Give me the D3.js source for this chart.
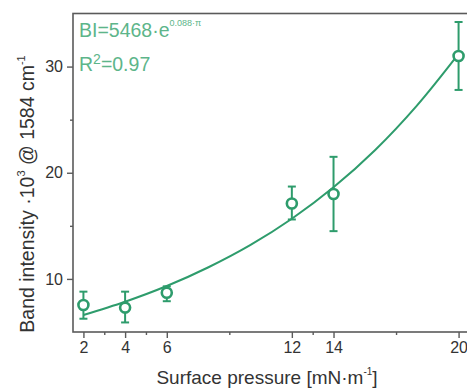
<!DOCTYPE html>
<html>
<head>
<meta charset="utf-8">
<script src="https://cdn.jsdelivr.net/npm/d3@7"></script>
<style>
  html, body { margin: 0; padding: 0; background: #fff; }
  svg { display: block; }
  text { font-family: "Liberation Sans", Arial, sans-serif; }
</style>
</head>
<body>
<svg id="chart" width="467" height="391"></svg>
<script>
// ---- data ----
const pressure = [2, 4, 6, 12, 14, 20];
const intensity = [7.55, 7.3, 8.7, 17.1, 18.0, 31.0];
const errLow = [6.25, 5.9, 7.9, 15.6, 14.5, 27.8];
const errHigh = [8.8, 8.8, 9.3, 18.7, 21.5, 34.2];
// fitted exponential curve, sampled as drawn in the reference
const fitX = [2, 4, 6, 8, 10, 12, 14, 16, 18, 20];
const fitY = [6.6, 7.85, 9.33, 11.1, 13.18, 15.67, 18.63, 22.15, 26.33, 31.2];
const xTickValues = [2, 4, 6, 12, 14, 20];
const xMinorTicks = [3, 5, 9, 13, 17];
const yTickValues = [10, 20, 30];
const yMinorTicks = [15, 25];

const green = "#2e9c6c";
const textGreen = "#5db58a";
const axisColor = "#5a5a5a";

const svg = d3.select("#chart");
const x = d3.scaleLinear().domain([1.5, 20.5]).range([73, 469]);
const y = d3.scaleLinear().domain([5, 35]).range([332, 13.5]);

// frame (top + left + bottom; right edge off-canvas)
svg.append("rect")
  .attr("x", x.range()[0]).attr("y", y.range()[1])
  .attr("width", x.range()[1] - x.range()[0])
  .attr("height", y.range()[0] - y.range()[1])
  .attr("fill", "none").attr("stroke", axisColor).attr("stroke-width", 1.6);

// x axis
const xAxis = svg.append("g").attr("transform", `translate(0,${y.range()[0]})`)
  .call(d3.axisBottom(x).tickValues(xTickValues).tickSize(6).tickPadding(4).tickFormat(d3.format("d")));
xAxis.select(".domain").remove();
xAxis.selectAll(".tick line").attr("stroke", axisColor).attr("stroke-width", 1.4);
xAxis.selectAll(".tick text").attr("font-size", 16).attr("fill", "#333")
  .attr("font-family", "Liberation Sans, Arial, sans-serif");
const xMinor = svg.append("g").attr("transform", `translate(0,${y.range()[0]})`)
  .call(d3.axisBottom(x).tickValues(xMinorTicks).tickSize(3).tickFormat(""));
xMinor.select(".domain").remove();
xMinor.selectAll(".tick line").attr("stroke", axisColor).attr("stroke-width", 1.4);

// y axis
const yAxis = svg.append("g").attr("transform", `translate(${x.range()[0]},0)`)
  .call(d3.axisLeft(y).tickValues(yTickValues).tickSize(6).tickPadding(4).tickFormat(d3.format("d")));
yAxis.select(".domain").remove();
yAxis.selectAll(".tick line").attr("stroke", axisColor).attr("stroke-width", 1.4);
yAxis.selectAll(".tick text").attr("font-size", 16).attr("fill", "#333")
  .attr("font-family", "Liberation Sans, Arial, sans-serif");
const yMinor = svg.append("g").attr("transform", `translate(${x.range()[0]},0)`)
  .call(d3.axisLeft(y).tickValues(yMinorTicks).tickSize(3).tickFormat(""));
yMinor.select(".domain").remove();
yMinor.selectAll(".tick line").attr("stroke", axisColor).attr("stroke-width", 1.4);

// axis titles
const xt = svg.append("text")
  .attr("x", 267).attr("y", 384)
  .attr("text-anchor", "middle").attr("font-size", 19).attr("fill", "#333");
xt.append("tspan").text("Surface pressure [mN·m");
xt.append("tspan").attr("font-size", 10).attr("dy", -9).text("-1");
xt.append("tspan").attr("dy", 9).text("]");

const yt = svg.append("text")
  .attr("transform", "translate(34,194) rotate(-90)")
  .attr("text-anchor", "middle").attr("font-size", 19.5).attr("fill", "#333");
yt.append("tspan").text("Band intensity ·10");
yt.append("tspan").attr("font-size", 11).attr("dy", -9).text("3");
yt.append("tspan").attr("dy", 9).text(" @ 1584 cm");
yt.append("tspan").attr("font-size", 11).attr("dy", -9).text("-1");

// fit curve
const fitData = fitX.map((d, i) => [d, fitY[i]]);
svg.append("path")
  .datum(fitData)
  .attr("d", d3.line().x(d => x(d[0])).y(d => y(d[1])).curve(d3.curveCatmullRom))
  .attr("fill", "none").attr("stroke", green).attr("stroke-width", 2);

// error bars
const pts = pressure.map((p, i) => ({p, v: intensity[i], lo: errLow[i], hi: errHigh[i]}));
const eb = svg.append("g").attr("stroke", green).attr("stroke-width", 2);
eb.selectAll("line.v").data(pts).join("line").attr("class", "v")
  .attr("x1", d => x(d.p)).attr("x2", d => x(d.p))
  .attr("y1", d => y(d.lo)).attr("y2", d => y(d.hi));
eb.selectAll("line.t").data(pts).join("line").attr("class", "t")
  .attr("x1", d => x(d.p) - 4).attr("x2", d => x(d.p) + 4)
  .attr("y1", d => y(d.hi)).attr("y2", d => y(d.hi));
eb.selectAll("line.b").data(pts).join("line").attr("class", "b")
  .attr("x1", d => x(d.p) - 4).attr("x2", d => x(d.p) + 4)
  .attr("y1", d => y(d.lo)).attr("y2", d => y(d.lo));

// markers
svg.append("g").selectAll("circle").data(pts).join("circle")
  .attr("cx", d => x(d.p)).attr("cy", d => y(d.v)).attr("r", 5)
  .attr("fill", "#fff").attr("stroke", green).attr("stroke-width", 2.6);

// annotation
const a1 = svg.append("text").attr("x", 79).attr("y", 37)
  .attr("font-size", 19.5).attr("fill", textGreen);
a1.append("tspan").text("BI=5468·e");
a1.append("tspan").attr("font-size", 9).attr("dy", -11).text("0.088·π");
const a2 = svg.append("text").attr("x", 79).attr("y", 71)
  .attr("font-size", 19.5).attr("fill", textGreen);
a2.append("tspan").text("R");
a2.append("tspan").attr("font-size", 14).attr("dy", -7).text("2");
a2.append("tspan").attr("dy", 7).text("=0.97");
</script>
</body>
</html>
